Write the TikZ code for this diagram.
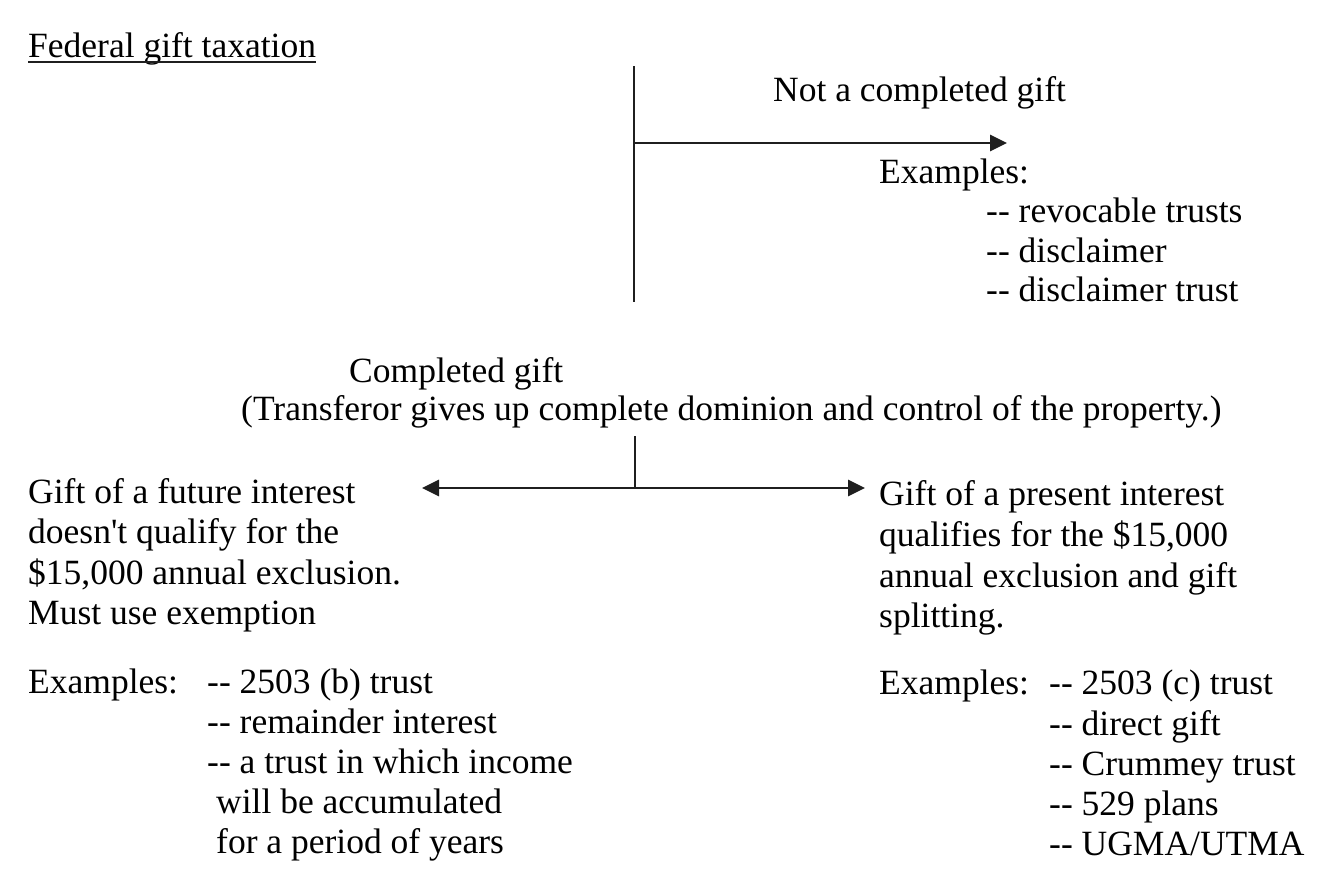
\documentclass[tikz,border=0pt]{standalone}
\usepackage{fontspec}
\setmainfont{Liberation Serif}
\usetikzlibrary{arrows.meta}
\begin{document}
\begin{tikzpicture}[x=1pt,y=-1pt,
  txt/.style={anchor=base west,inner sep=0pt,font=\fontsize{35.5}{40}\selectfont},
  conn/.style={line width=2.9pt,draw=black!88},
  arr/.style={conn,-{Triangle[length=17pt,width=16pt]}},
  darr/.style={conn,{Triangle[length=17pt,width=16pt]}-{Triangle[length=17pt,width=16pt]}}]
\useasboundingbox (0,0) rectangle (1334,887);
% title
\node[txt] (title) at (28,57) {Federal gift taxation};
\draw[line width=1.8pt,draw=black!88] ([yshift=-5pt]title.base west) -- ([yshift=-5pt]title.base east);
% top branch
\coordinate (vtop) at (634,66);
\coordinate (vbot) at (634,302);
\coordinate (hstart) at (634,143);
\coordinate (hend) at (1007,143);
\draw[conn] (vtop) -- (vbot);
\draw[arr] (hstart) -- (hend);
\node[txt] (notc) at (773,101) {Not a completed gift};
\node[txt] (ex1) at (879,183) {Examples:};
\node[txt] (ex1a) at (986,222) {-{}- revocable trusts};
\node[txt] (ex1b) at (986,262) {-{}- disclaimer};
\node[txt] (ex1c) at (986,301) {-{}- disclaimer trust};
% completed gift
\node[txt] (comp) at (349,382) {Completed gift};
\node[txt] (trans) at (241,420) {(Transferor gives up complete dominion and control of the property.)};
\coordinate (ctop) at (635,436);
\coordinate (cmid) at (635,488);
\coordinate (lend) at (422,488);
\coordinate (rend) at (865,488);
\draw[conn] (ctop) -- (cmid);
\draw[darr] (lend) -- (rend);
% left block
\node[txt] (l1) at (28,503) {Gift of a future interest};
\node[txt] (l2) at (28,543) {doesn\textquotesingle t qualify for the};
\node[txt] (l3) at (28,584) {\$15,000 annual exclusion.};
\node[txt] (l4) at (28,624) {Must use exemption};
\node[txt] (lex) at (28,693) {Examples:};
\node[txt] (lexa) at (207,693) {-{}- 2503 (b) trust};
\node[txt] (lexb) at (207,733) {-{}- remainder interest};
\node[txt] (lexc) at (207,773) {-{}- a trust in which income};
\node[txt] (lexd) at (216,813) {will be accumulated};
\node[txt] (lexe) at (216,853) {for a period of years};
% right block
\node[txt] (r1) at (879,505) {Gift of a present interest};
\node[txt] (r2) at (879,546) {qualifies for the \$15,000};
\node[txt] (r3) at (879,587) {annual exclusion and gift};
\node[txt] (r4) at (879,627) {splitting.};
\node[txt] (rex) at (879,694) {Examples:};
\node[txt] (rexa) at (1049,694) {-{}- 2503 (c) trust};
\node[txt] (rexb) at (1049,735) {-{}- direct gift};
\node[txt] (rexc) at (1049,775) {-{}- Crummey trust};
\node[txt] (rexd) at (1049,815) {-{}- 529 plans};
\node[txt] (rexe) at (1049,855) {-{}- UGMA/UTMA};
\end{tikzpicture}
\end{document}
